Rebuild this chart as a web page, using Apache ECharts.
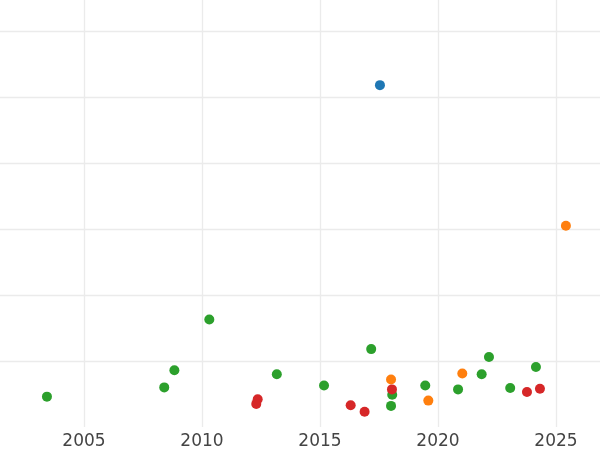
<!DOCTYPE html>
<html>
<head>
<meta charset="utf-8">
<script src="https://cdn.jsdelivr.net/npm/echarts@6/dist/echarts.min.js"></script>
<style>html,body{margin:0;padding:0;background:#fff}#c{width:600px;height:450px}</style>
</head>
<body>
<div id="c"></div>
<script>
// Data: [year, value]
const blueSeries = [[2017.54, 5.18]];
const orangeSeries = [[2025.42, 3.05], [2018.01, 0.72], [2019.59, 0.40], [2021.03, 0.81]];
const greenSeries = [
  [2003.43, 0.46], [2008.40, 0.60], [2008.83, 0.86], [2010.31, 1.63], [2013.17, 0.80],
  [2015.17, 0.63], [2017.17, 1.18], [2018.06, 0.49], [2018.01, 0.32], [2019.46, 0.63],
  [2020.85, 0.57], [2021.85, 0.80], [2022.16, 1.06], [2023.06, 0.59], [2024.15, 0.91]
];
const redSeries = [
  [2012.36, 0.42], [2012.30, 0.35], [2016.30, 0.33], [2016.89, 0.23],
  [2018.05, 0.57], [2023.77, 0.53], [2024.32, 0.58]
];
const seriesColors = ['#1f77b4', '#ff7f0e', '#2ca02c', '#d62728'];
const xTicks = [2000, 2005, 2010, 2015, 2020, 2025, 2030];

const chart = echarts.init(document.getElementById('c'), null, {renderer: 'canvas'});
const mk = (d, c) => ({
  type: 'scatter', data: d, symbolSize: 10,
  itemStyle: {color: c, opacity: 1}, clip: true
});
chart.setOption({
  animation: false,
  backgroundColor: '#ffffff',
  grid: {left: -34, right: -74, top: 0, bottom: 23, containLabel: false, outerBoundsMode: 'none'},
  xAxis: {
    type: 'value', min: xTicks[0], max: xTicks[xTicks.length - 1], interval: 5,
    axisLine: {show: false}, axisTick: {show: false},
    axisLabel: {color: '#444444', fontSize: 17, fontFamily: 'DejaVu Sans', margin: 6,
      formatter: v => String(v), hideOverlap: false},
    splitLine: {show: true, lineStyle: {color: '#ebebeb', width: 1.3}}
  },
  yAxis: {
    type: 'value', min: 0, max: 6.47, interval: 1,
    axisLine: {show: false}, axisTick: {show: false}, axisLabel: {show: false},
    splitLine: {show: true, showMinLine: false, showMaxLine: false, lineStyle: {color: '#ebebeb', width: 1.3}}
  },
  series: [
    mk(blueSeries, seriesColors[0]),
    mk(orangeSeries, seriesColors[1]),
    mk(greenSeries, seriesColors[2]),
    mk(redSeries, seriesColors[3])
  ]
});
</script>
</body>
</html>
